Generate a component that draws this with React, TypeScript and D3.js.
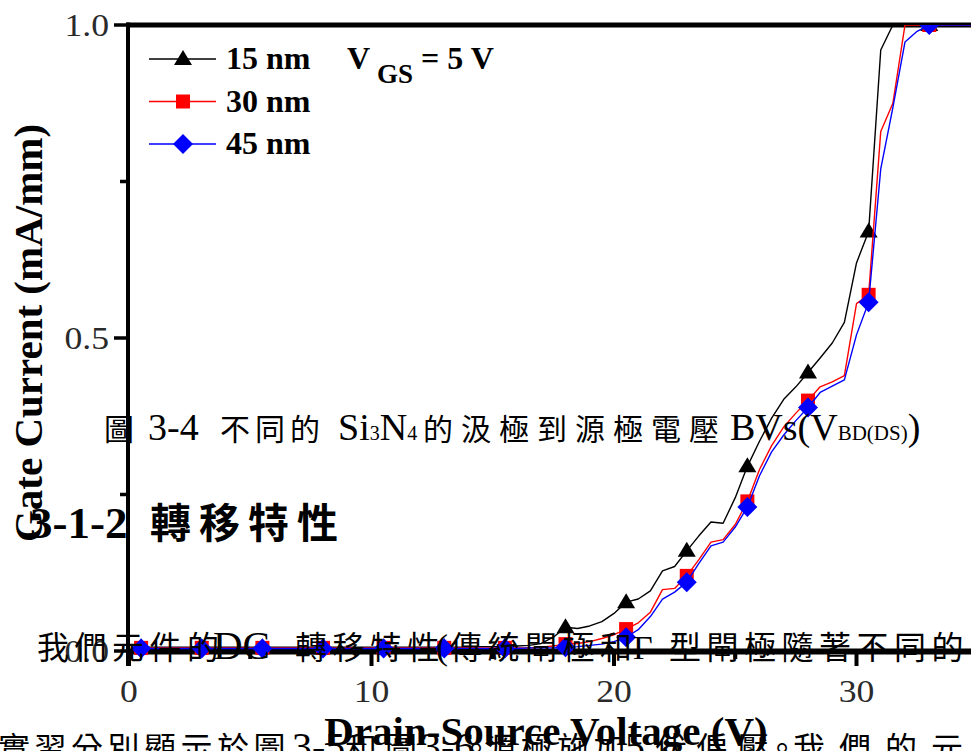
import React from "react";
import * as d3 from "d3";

// Drain-source sweep, 0.5 V per step (0.5 V … 35 V)
const drainVoltage: number[] = d3.range(0.5, 35.001, 0.5);

// Gate current (mA/mm) for each Si3N4 thickness, V_GS = 5 V
const gate15nm = [
  0.006, 0.006, 0.006, 0.006, 0.006, 0.006, 0.006, 0.006, 0.006, 0.006,
  0.006, 0.006, 0.006, 0.006, 0.006, 0.006, 0.006, 0.006, 0.006, 0.006,
  0.006, 0.006, 0.006, 0.006, 0.006, 0.006, 0.006, 0.006, 0.007, 0.007,
  0.007, 0.008, 0.009, 0.012, 0.022, 0.038, 0.036, 0.040, 0.047, 0.060,
  0.078, 0.083, 0.096, 0.128, 0.135, 0.160, 0.184, 0.206, 0.204, 0.245,
  0.295, 0.335, 0.372, 0.402, 0.422, 0.445, 0.468, 0.492, 0.525, 0.620,
  0.670, 0.960, 1.000, 1.000, 1.000, 1.000, 1.000, 1.000, 1.000, 1.000,
];
const gate30nm = [
  0.005, 0.005, 0.005, 0.005, 0.005, 0.005, 0.005, 0.005, 0.005, 0.005,
  0.005, 0.005, 0.005, 0.005, 0.005, 0.005, 0.005, 0.005, 0.005, 0.005,
  0.005, 0.005, 0.005, 0.005, 0.005, 0.005, 0.005, 0.005, 0.005, 0.005,
  0.005, 0.005, 0.005, 0.006, 0.008, 0.011, 0.012, 0.015, 0.020, 0.026,
  0.035, 0.045, 0.062, 0.098, 0.100, 0.120, 0.146, 0.174, 0.178, 0.202,
  0.239, 0.290, 0.328, 0.358, 0.380, 0.400, 0.422, 0.430, 0.440, 0.555,
  0.569, 0.830, 0.875, 1.000, 1.000, 1.000, 1.000, 1.000, 1.000, 1.000,
];
const gate45nm = [
  0.004, 0.004, 0.004, 0.004, 0.004, 0.004, 0.004, 0.004, 0.004, 0.004,
  0.004, 0.004, 0.004, 0.004, 0.004, 0.004, 0.004, 0.004, 0.004, 0.004,
  0.004, 0.004, 0.004, 0.004, 0.004, 0.004, 0.004, 0.004, 0.004, 0.004,
  0.004, 0.004, 0.005, 0.005, 0.005, 0.006, 0.007, 0.009, 0.011, 0.015,
  0.022, 0.034, 0.055, 0.083, 0.094, 0.110, 0.140, 0.168, 0.174, 0.198,
  0.230, 0.280, 0.318, 0.345, 0.368, 0.389, 0.413, 0.423, 0.433, 0.505,
  0.557, 0.770, 0.868, 0.973, 0.990, 1.000, 1.000, 1.000, 1.000, 1.000,
];

const seriesLabels = ["15 nm", "30 nm", "45 nm"];
const xMajorTicks = [0, 10, 20, 30];
const xMinorTicks = [5, 15, 25];
const yMajorTicks = [0, 0.5, 1.0];
const yMinorTicks = [0.25, 0.75];

const W = 971;
const H = 751;
const SERIF = "'Liberation Serif', 'Times New Roman', serif";
const MIXED = "'Liberation Serif', 'Noto Sans CJK TC', 'Noto Sans CJK SC', sans-serif";
const CJK = "'Noto Sans CJK TC', 'Noto Sans CJK SC', sans-serif";

const x = d3.scaleLinear().domain([0, 35]).range([129, 129 + 24.25 * 35]);
const y = d3.scaleLinear().domain([0, 1]).range([651, 25]);

const triangle = "M0,-9L9,6L-9,6Z";
const square = "M-7,-7H7V7H-7Z";
const diamond = "M0,-10L10,0L0,10L-10,0Z";

const series = [
  { name: seriesLabels[0], values: gate15nm, color: "#000000", marker: triangle },
  { name: seriesLabels[1], values: gate30nm, color: "#ff0000", marker: square },
  { name: seriesLabels[2], values: gate45nm, color: "#0000ff", marker: diamond },
];

const line = d3
  .line<number>()
  .x((_, i) => x(drainVoltage[i]))
  .y((d) => y(d));

const fmt = d3.format(".1f");

export default function App() {
  return (
    <svg
      width={W}
      height={H}
      viewBox={`0 0 ${W} ${H}`}
      style={{ position: "absolute", left: 0, top: 0, display: "block", background: "#fff" }}
    >
      <defs>
        <clipPath id="plotClip">
          <rect x={120} y={25} width={900} height={680} />
        </clipPath>
      </defs>
      <rect x={0} y={0} width={W} height={H} fill="#fff" />

      {/* frame */}
      <line x1={126} x2={W} y1={y(1)} y2={y(1)} stroke="#000" strokeWidth={5} />
      <line x1={126} x2={W} y1={y(0) + 0.5} y2={y(0) + 0.5} stroke="#000" strokeWidth={6} />
      <line x1={x(0) - 1} x2={x(0) - 1} y1={22.5} y2={666} stroke="#000" strokeWidth={4} />

      {/* y ticks */}
      {yMajorTicks.map((t) => (
        <g key={"ym" + t}>
          <line x1={114} x2={128} y1={y(t)} y2={y(t)} stroke="#000" strokeWidth={3.5} />
          <text
            transform={`translate(109,${y(t) + 11}) scale(1.15,1)`}
            textAnchor="end"
            fontFamily={SERIF}
            fontSize={31}
            fill="#2a2a2a"
          >
            {fmt(t)}
          </text>
        </g>
      ))}
      {yMinorTicks.map((t) => (
        <line key={"yn" + t} x1={120} x2={128} y1={y(t)} y2={y(t)} stroke="#000" strokeWidth={3.5} />
      ))}

      {/* x ticks */}
      {xMajorTicks.map((t) => (
        <g key={"xm" + t}>
          <line x1={x(t)} x2={x(t)} y1={651} y2={666} stroke="#000" strokeWidth={4} />
          <text
            transform={`translate(${x(t)},702) scale(1.15,1)`}
            textAnchor="middle"
            fontFamily={SERIF}
            fontSize={31}
            fill="#2a2a2a"
          >
            {t}
          </text>
        </g>
      ))}
      {xMinorTicks.map((t) => (
        <line key={"xn" + t} x1={x(t)} x2={x(t)} y1={651} y2={659} stroke="#000" strokeWidth={4} />
      ))}

      {/* data */}
      <g clipPath="url(#plotClip)">
        {series.map((s) => (
          <g key={s.name}>
            <path d={line(s.values) || ""} fill="none" stroke={s.color} strokeWidth={1.4} strokeLinejoin="round" />
            {s.values.map((v, i) =>
              i % 5 === 0 ? (
                <path
                  key={i}
                  d={s.marker}
                  transform={`translate(${x(drainVoltage[i])},${y(v)})`}
                  fill={s.color}
                />
              ) : null
            )}
          </g>
        ))}
      </g>

      {/* legend */}
      {series.map((s, k) => {
        const ly = 59 + k * 42.5;
        return (
          <g key={"lg" + s.name}>
            <line x1={149} x2={216} y1={ly} y2={ly} stroke={s.color} strokeWidth={1.4} />
            <path d={s.marker} transform={`translate(183,${ly})`} fill={s.color} />
            <text x={226} y={ly + 10} fontFamily={SERIF} fontWeight="bold" fontSize={32} fill="#000">
              {s.name}
            </text>
          </g>
        );
      })}
      <text x={347} y={69} fontFamily={SERIF} fontWeight="bold" fontSize={32} fill="#000">
        V
      </text>
      <text x={377} y={83} fontFamily={SERIF} fontWeight="bold" fontSize={27} fill="#000">
        GS
      </text>
      <text x={421} y={69} fontFamily={SERIF} fontWeight="bold" fontSize={32} fill="#000" style={{ whiteSpace: "pre" }}>
        = 5 V
      </text>

      {/* axis titles */}
      <text
        transform="translate(42,333) rotate(-90)"
        textAnchor="middle"
        fontFamily={SERIF}
        fontWeight="bold"
        fontSize={41}
        fill="#000"
      >
        Gate Current (mA/mm)
      </text>
      <text x={546} y={745} textAnchor="middle" fontFamily={SERIF} fontWeight="bold" fontSize={41} fill="#000">
        Drain-Source Voltage (V)
      </text>

      {/* figure caption */}
      <text y={440} fontFamily={MIXED} fontSize={30} fill="#000">
        <tspan x={104} fontFamily={CJK}>圖</tspan>
        <tspan x={148} fontSize={38}>3-4</tspan>
        <tspan x={220} fontFamily={CJK} letterSpacing={5}>不同的</tspan>
        <tspan x={338} fontSize={38}>Si</tspan>
        <tspan fontSize={20}>3</tspan>
        <tspan fontSize={38}>N</tspan>
        <tspan fontSize={20}>4</tspan>
        <tspan x={423} fontFamily={CJK} letterSpacing={8}>的汲極到源極電壓</tspan>
        <tspan x={730} fontSize={38}>BVs(V</tspan>
        <tspan fontSize={21}>BD(DS)</tspan>
        <tspan fontSize={38}>)</tspan>
      </text>

      {/* section heading */}
      <text y={538} fill="#000" fontWeight="bold">
        <tspan x={30} fontFamily={SERIF} fontSize={45}>3-1-2</tspan>
        <tspan x={150} fontFamily={CJK} fontSize={41} letterSpacing={8}>轉移特性</tspan>
      </text>

      {/* body text */}
      <text y={659} fill="#000" fontFamily={CJK} fontSize={32}>
        <tspan x={37} letterSpacing={5.5}>我們元件的</tspan>
        <tspan x={213} fontFamily={SERIF} fontSize={41}>DC</tspan>
        <tspan x={295} letterSpacing={5.5}>轉移特性</tspan>
        <tspan x={436} fontFamily={SERIF} fontSize={36}>(</tspan>
        <tspan x={450} letterSpacing={5.5}>傳統閘極和</tspan>
        <tspan x={633} fontFamily={SERIF} fontSize={34}>Γ</tspan>
        <tspan x={669} letterSpacing={5.5}>型閘極隨著不同的</tspan>
      </text>
      <text y={760} fill="#000" fontFamily={CJK} fontSize={32}>
        <tspan x={-2} letterSpacing={4.5}>實習分別顯示於圖</tspan>
        <tspan x={292} fontFamily={SERIF} fontSize={40}>3-5</tspan>
        <tspan x={345} letterSpacing={8}>和圖</tspan>
        <tspan x={421} fontFamily={SERIF} fontSize={40}>3-6</tspan>
        <tspan x={460}>。</tspan>
        <tspan x={484} letterSpacing={4.5}>源極施加</tspan>
        <tspan x={625} fontFamily={SERIF} fontSize={40}>5</tspan>
        <tspan x={655} letterSpacing={9}>伏偏壓</tspan>
        <tspan x={766}>。</tspan>
        <tspan x={793} letterSpacing={14}>我們的元</tspan>
      </text>
    </svg>
  );
}
